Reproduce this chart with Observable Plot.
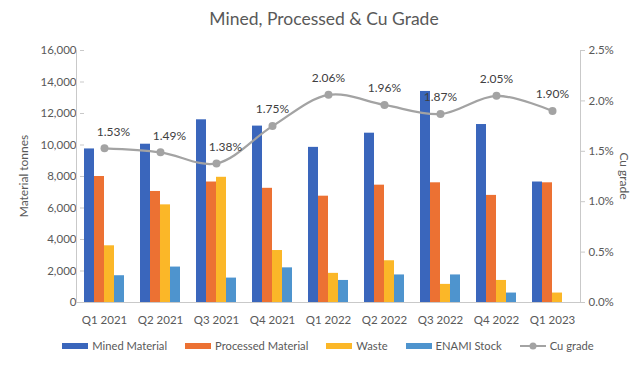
<!DOCTYPE html>
<html>
<head>
<meta charset="utf-8">
<script src="https://cdn.jsdelivr.net/npm/d3@7"></script>
<script src="https://cdn.jsdelivr.net/npm/@observablehq/plot@0.6"></script>
<style>
  html, body { margin: 0; padding: 0; background: #fff; }
  #wrap { position: relative; width: 644px; height: 374px; font-family: Lato, "Open Sans", sans-serif; color: #595959; overflow: hidden; }
  #wrap svg { position: absolute; left: 0; top: 0; }
  .title { position: absolute; top: 8px; left: 0; width: 648px; text-align: center; font-size: 17.5px; color: #595959; }
  .ylab { position: absolute; font-size: 12px; color: #595959; white-space: nowrap; }
  .legend { position: absolute; top: 339px; left: 0; width: 644px; padding-left: 12px; box-sizing: border-box; display: flex; justify-content: center; gap: 18px; font-size: 11.2px; color: #595959; }
  .legend .item { display: flex; align-items: center; gap: 4px; }
  .legend .sw { width: 26px; height: 6px; display: inline-block; }
</style>
</head>
<body>
<div id="wrap">
  <div class="title">Mined, Processed &amp; Cu Grade</div>
</div>
<script>
const quarters = ["Q1 2021", "Q2 2021", "Q3 2021", "Q4 2021", "Q1 2022", "Q2 2022", "Q3 2022", "Q4 2022", "Q1 2023"];
const minedMaterial = [9750, 10050, 11600, 11200, 9850, 10750, 13400, 11300, 7650];
const processedMaterial = [8000, 7050, 7650, 7250, 6750, 7450, 7600, 6800, 7600];
const waste = [3600, 6200, 7950, 3300, 1850, 2650, 1150, 1400, 600];
const enamiStock = [1700, 2250, 1550, 2200, 1400, 1750, 1750, 600, 0];
const cuGrade = [1.53, 1.49, 1.38, 1.75, 2.06, 1.96, 1.87, 2.05, 1.90];
const seriesNames = ["Mined Material", "Processed Material", "Waste", "ENAMI Stock"];
const seriesColors = ["#3A66BC", "#EC7133", "#FBB728", "#4E94CE"];
const lineColor = "#A3A3A3";
const leftTicks = [0, 2000, 4000, 6000, 8000, 10000, 12000, 14000, 16000];
const rightTicks = [0, 0.5, 1.0, 1.5, 2.0, 2.5];

const seriesValues = [minedMaterial, processedMaterial, waste, enamiStock];
const barRows = [];
quarters.forEach((q, i) => seriesNames.forEach((s, j) => barRows.push({quarter: q, series: s, value: seriesValues[j][i]})));
const lineRows = quarters.map((q, i) => ({quarter: q, cu: cuGrade[i], idx: i}));

const W = 644, H = 335, mT = 50, mB = 33, mL = 76, mR = 64;
const font = "Lato, 'Open Sans', sans-serif";
const axisGray = "#C9C9C9";

const bars = Plot.plot({
  width: W, height: H, marginTop: mT, marginBottom: mB, marginLeft: mL, marginRight: mR,
  style: {fontFamily: font, fontSize: "11.5px", background: "transparent", color: "#595959"},
  fx: {domain: quarters, paddingInner: 0.28, paddingOuter: 0.14, label: null},
  x: {domain: seriesNames, padding: 0, axis: null},
  y: {domain: [0, 16000], axis: null},
  color: {domain: seriesNames, range: seriesColors},
  marks: [
    Plot.barY(barRows, {fx: "quarter", x: "series", y: "value", fill: "series"}),
    Plot.axisY({ticks: leftTicks, tickFormat: d3.format(","), tickSize: 4, tickPadding: 4, stroke: axisGray, fill: "#595959", label: null, fontSize: 11.5}),
    Plot.axisFx({anchor: "bottom", tickSize: 0, tickPadding: 13, label: null, fill: "#595959", fontSize: 11.5})
  ]
});

const line = Plot.plot({
  width: W, height: H, marginTop: mT, marginBottom: mB, marginLeft: mL, marginRight: mR,
  style: {fontFamily: font, fontSize: "11.5px", background: "transparent", color: "#595959"},
  x: {type: "point", domain: quarters, padding: 0.5, axis: null},
  y: {domain: [0, 2.5], axis: null},
  marks: [
    Plot.frame({anchor: "left", stroke: axisGray}),
    Plot.frame({anchor: "right", stroke: axisGray}),
    Plot.ruleY([0], {stroke: axisGray}),
    Plot.line(lineRows, {x: "quarter", y: "cu", stroke: lineColor, strokeWidth: 2.25, curve: "catmull-rom"}),
    Plot.dot(lineRows, {x: "quarter", y: "cu", r: 4, fill: lineColor}),
    Plot.text(lineRows.filter(d => d.idx < 3), {x: "quarter", y: "cu", text: d => d.cu.toFixed(2) + "%", dy: -16, dx: 9, fill: "#404040", fontSize: 12}),
    Plot.text(lineRows.filter(d => d.idx >= 3), {x: "quarter", y: "cu", text: d => d.cu.toFixed(2) + "%", dy: -17, fill: "#404040", fontSize: 12}),
    Plot.axisY({anchor: "right", ticks: rightTicks, tickFormat: d => d.toFixed(1) + "%", tickSize: 4, tickPadding: 4, stroke: axisGray, fill: "#595959", label: null, fontSize: 11.5})
  ]
});

const wrap = document.getElementById("wrap");
wrap.appendChild(bars);
wrap.appendChild(line);

const yl = document.createElement("div");
yl.className = "ylab";
yl.textContent = "Material tonnes";
yl.style.left = "23px"; yl.style.top = "176px";
yl.style.transform = "translate(-50%, -50%) rotate(-90deg)";
wrap.appendChild(yl);

const yr = document.createElement("div");
yr.className = "ylab";
yr.textContent = "Cu grade";
yr.style.left = "624px"; yr.style.top = "176px";
yr.style.transform = "translate(-50%, -50%) rotate(90deg)";
wrap.appendChild(yr);

const legend = document.createElement("div");
legend.className = "legend";
seriesNames.forEach((s, j) => {
  const it = document.createElement("span");
  it.className = "item";
  const sw = document.createElement("span");
  sw.className = "sw";
  sw.style.background = seriesColors[j];
  it.appendChild(sw);
  it.appendChild(document.createTextNode(s));
  legend.appendChild(it);
});
const li = document.createElement("span");
li.className = "item";
li.innerHTML = `<svg width="26" height="10" style="position:static"><line x1="0" y1="5" x2="26" y2="5" stroke="${lineColor}" stroke-width="2"/><circle cx="13" cy="5" r="3.5" fill="${lineColor}"/></svg>`;
li.appendChild(document.createTextNode("Cu grade"));
legend.appendChild(li);
wrap.appendChild(legend);
</script>
</body>
</html>
